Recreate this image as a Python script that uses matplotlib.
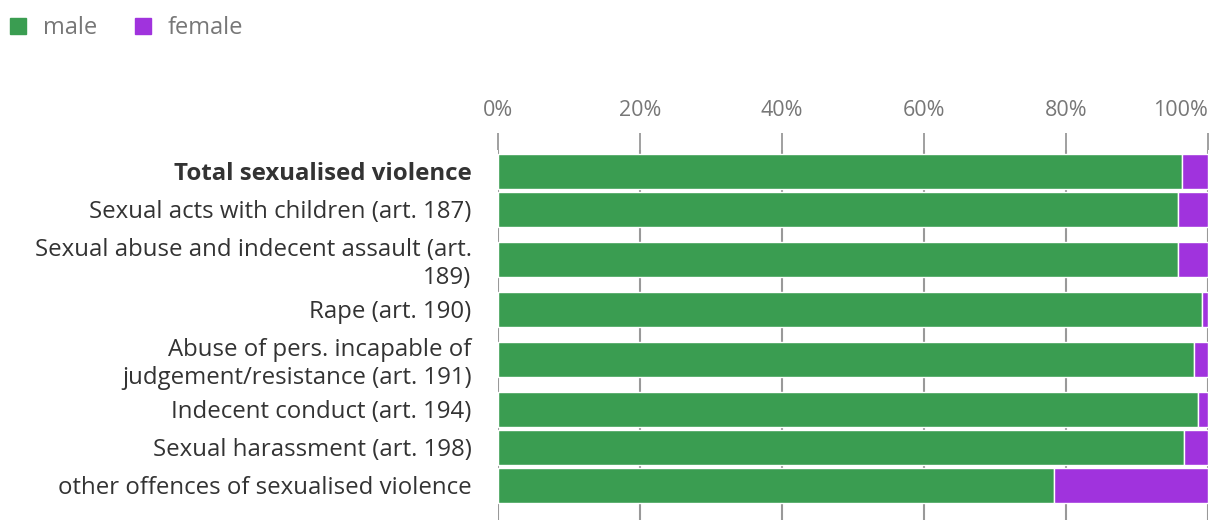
import matplotlib
matplotlib.use("Agg")
import matplotlib.pyplot as plt
from matplotlib.patches import Patch

plt.rcParams['font.family'] = ['Open Sans', 'DejaVu Sans']

categories = [
    "Total sexualised violence",
    "Sexual acts with children (art. 187)",
    "Sexual abuse and indecent assault (art.\n189)",
    "Rape (art. 190)",
    "Abuse of pers. incapable of\njudgement/resistance (art. 191)",
    "Indecent conduct (art. 194)",
    "Sexual harassment (art. 198)",
    "other offences of sexualised violence",
]
male = [96.3, 95.8, 95.8, 99.2, 98.0, 98.6, 96.6, 78.3]
female = [100 - m for m in male]
ticks = [0, 20, 40, 60, 80, 100]
tick_labels = ["0%", "20%", "40%", "60%", "80%", "100%"]

GREEN = "#3a9d51"
PURPLE = "#a033dd"

# row slots: taller for two-line labels
slots = [62 if "\n" in c else 38 for c in categories]
centers = []
acc = 0
for s in slots:
    centers.append(acc + s / 2)
    acc += s

fig = plt.figure(figsize=(12.2, 5.32), dpi=100)
ax = fig.add_axes([498 / 1220, 12 / 532, 710 / 1220, 370 / 532])

ax.barh(centers, male, height=35, color=GREEN, edgecolor="white", linewidth=1, zorder=3)
ax.barh(centers, female, left=male, height=35, color=PURPLE, edgecolor="white", linewidth=1, zorder=3)

ax.set_xlim(0, 100)
ax.set_ylim(acc + 16, -2)
ax.tick_params(axis="y", length=0, pad=19)
ax.set_yticks(centers)
ylabels = ax.set_yticklabels(categories, fontsize=17.3, color="#333333", linespacing=1.2)
ylabels[0].set_fontweight("bold")

ax.xaxis.tick_top()
ax.tick_params(axis="x", length=12, width=1.3, color="#999999", pad=9)
ax.set_xticks(ticks)
ax.set_xticklabels(tick_labels, fontsize=15.5, color="#777777")
ax.get_xticklabels()[-1].set_horizontalalignment("right")
ax.grid(axis="x", color="#999999", linewidth=1.5)
ax.set_axisbelow(True)
for sp in ax.spines.values():
    sp.set_visible(False)

handles = [Patch(color=GREEN, label="male"), Patch(color=PURPLE, label="female")]
fig.legend(handles=handles, loc="upper left", bbox_to_anchor=(10 / 1220, 1 - 16 / 532), ncol=2,
           frameon=False, fontsize=17, labelcolor="#777777",
           handlelength=0.68, handleheight=0.68, handletextpad=0.7, columnspacing=1.6,
           borderaxespad=0, borderpad=0)

fig.savefig("out.png", dpi=100)
